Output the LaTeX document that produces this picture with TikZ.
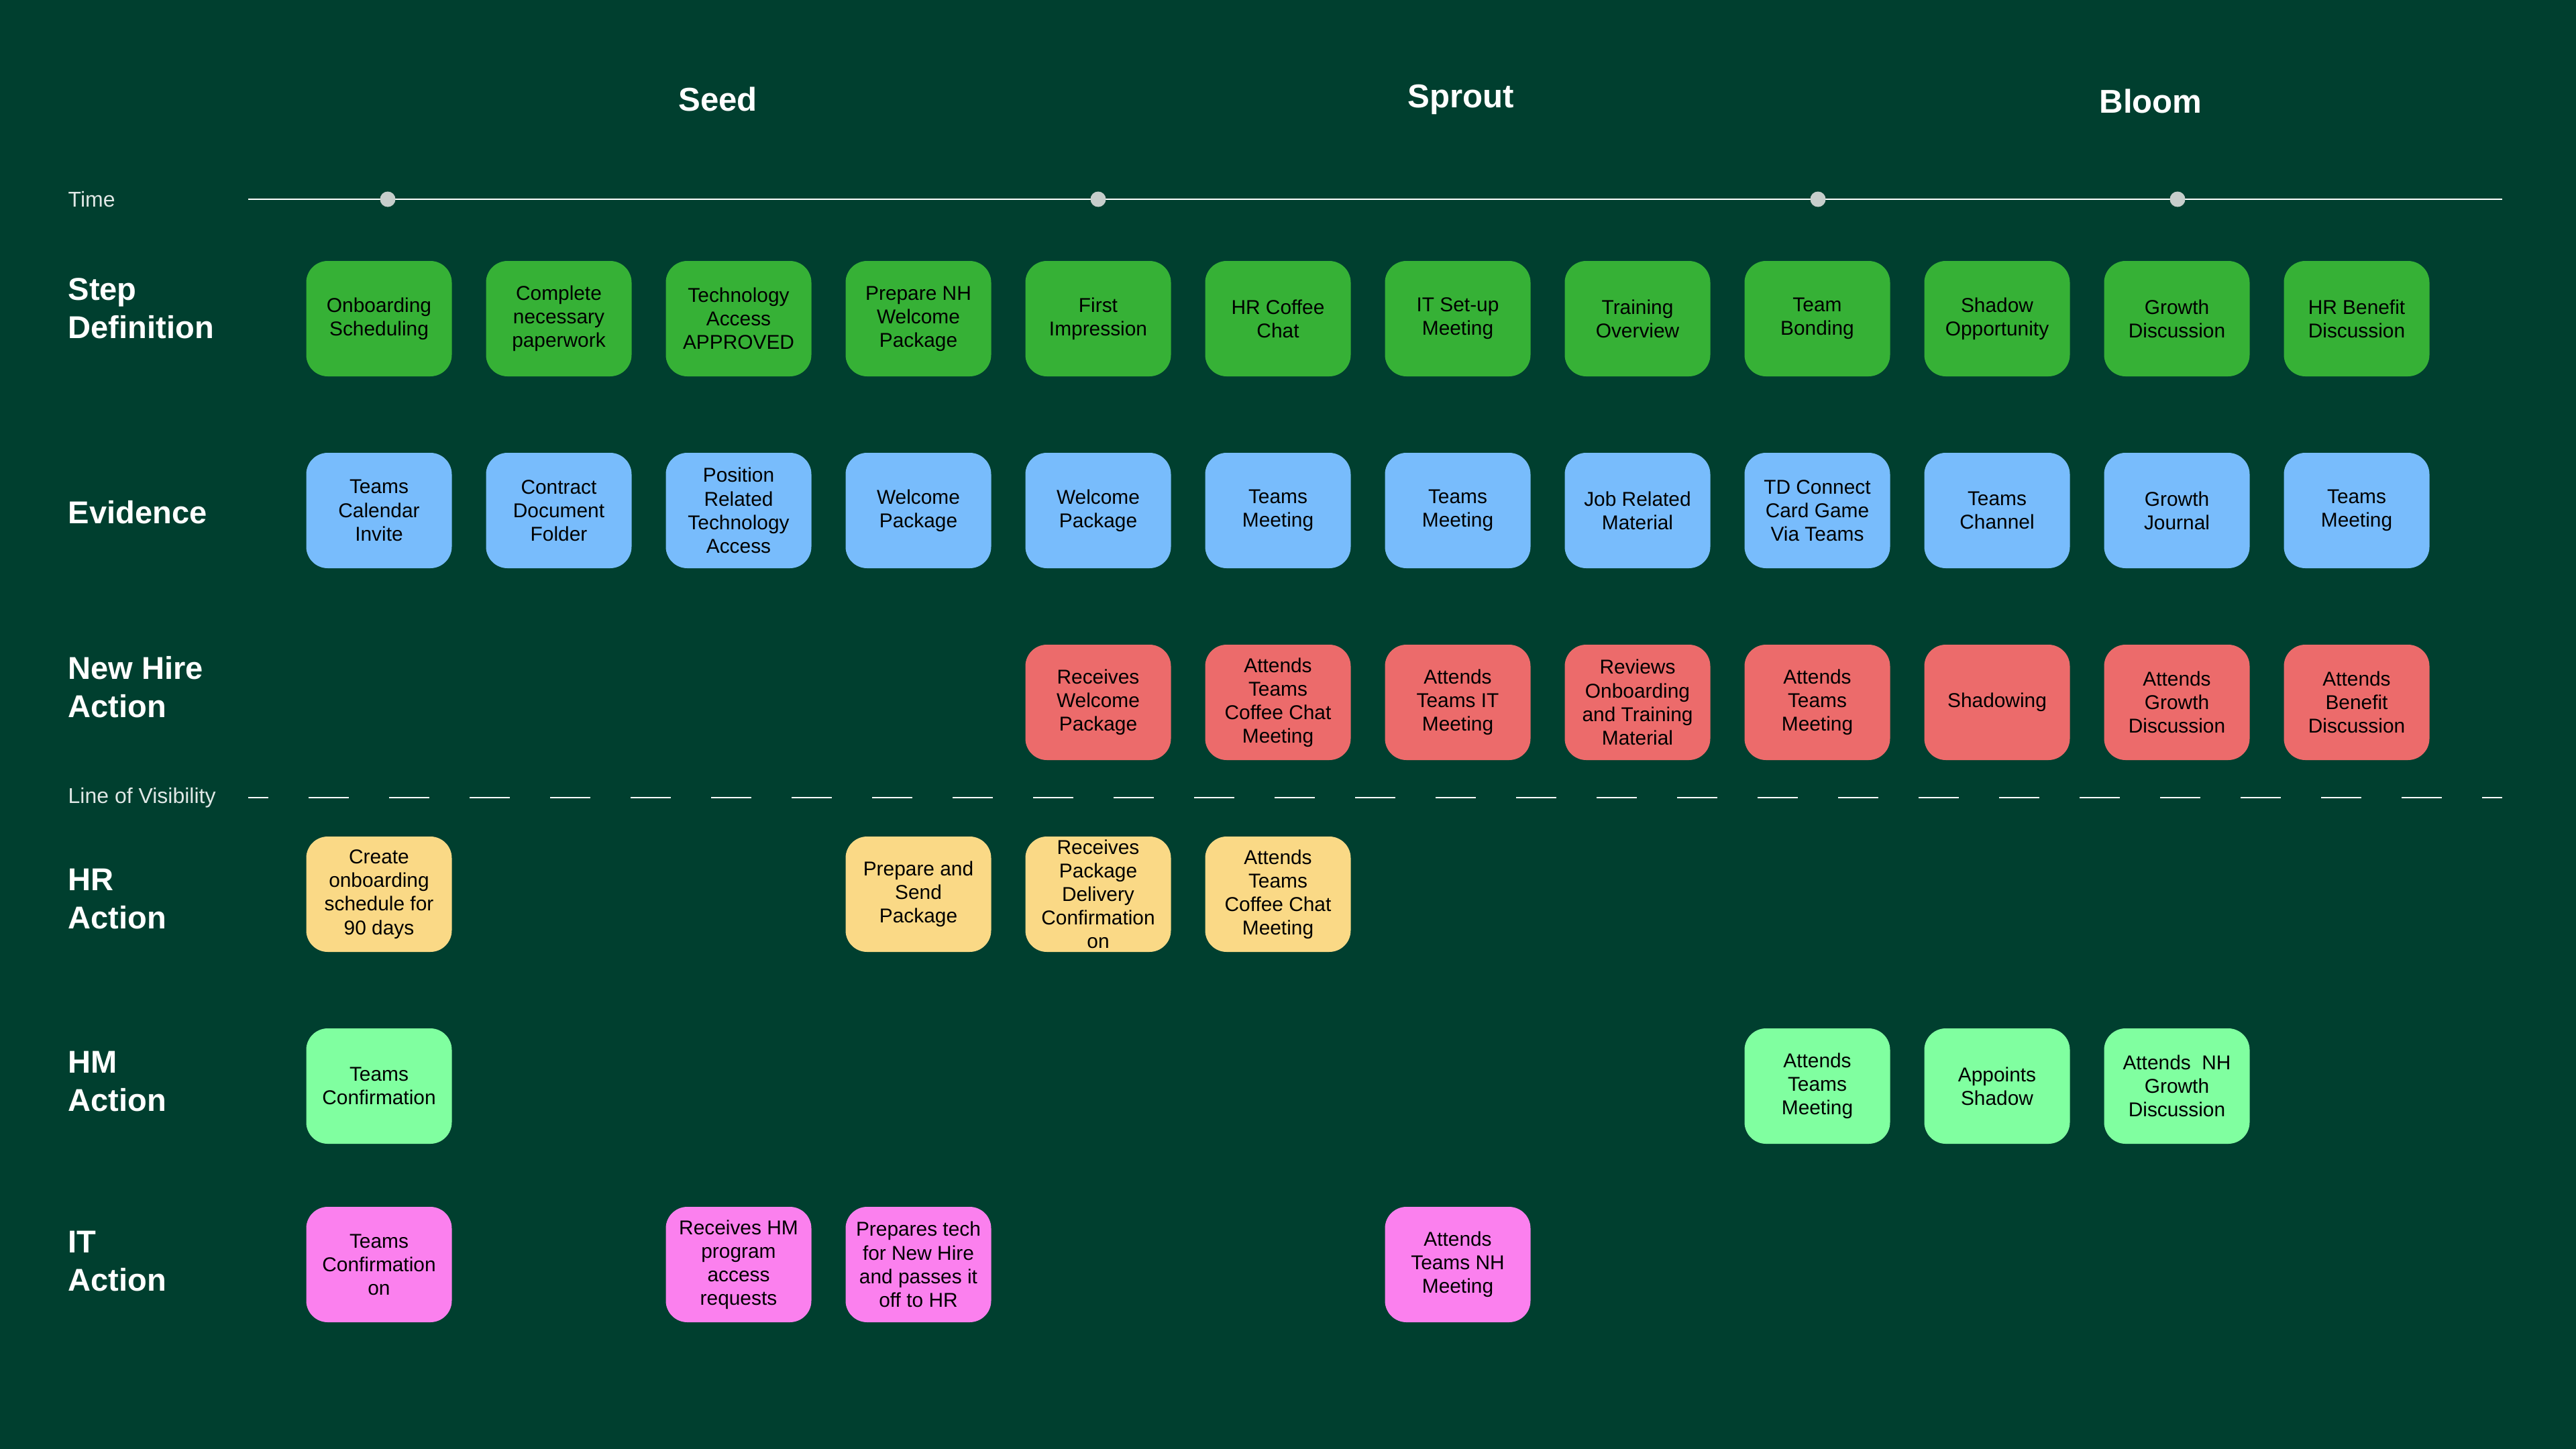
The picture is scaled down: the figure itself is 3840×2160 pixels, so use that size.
\documentclass[tikz,border=0pt]{standalone}
\usepackage{fontspec}
\setmainfont{Liberation Sans}
\usepackage{tikz}

\definecolor{bggreen}{HTML}{003F2F}
\definecolor{stepgreen}{HTML}{36B136}
\definecolor{evblue}{HTML}{78BCFC}
\definecolor{nhred}{HTML}{EC6B6B}
\definecolor{hryellow}{HTML}{FAD986}
\definecolor{hmgreen}{HTML}{80FFA0}
\definecolor{itpink}{HTML}{FB80EE}
\definecolor{dotgrey}{HTML}{C6CECB}

\begin{document}
\begin{tikzpicture}[x=0.1mm,y=-0.1mm,
  box/.style={rounded corners=3.2mm,minimum width=21.7mm,minimum height=17.2mm,inner sep=0pt,align=center,text=black,font=\fontsize{8.5}{10}\selectfont},
  stepbox/.style={box,fill=stepgreen},
  evbox/.style={box,fill=evblue},
  nhbox/.style={box,fill=nhred},
  hrbox/.style={box,fill=hryellow},
  hmbox/.style={box,fill=hmgreen},
  itbox/.style={box,fill=itpink},
  phase/.style={text=white,inner sep=0pt,font=\bfseries\fontsize{14}{17}\selectfont},
  rowlbl/.style={text=white,inner sep=0pt,align=left,anchor=west,font=\bfseries\fontsize{13.4}{16.2}\selectfont},
  smalllbl/.style={text=white!88!bggreen,inner sep=0pt,anchor=west,font=\fontsize{9.1}{11}\selectfont},
  dot/.style={circle,fill=dotgrey,inner sep=0pt,minimum size=2.3mm}]

\fill[bggreen] (0,0) rectangle (3840,2160);
\useasboundingbox (0,0) rectangle (3840,2160);

%phases
\node[phase,anchor=base] (seed) at (1070,165) {Seed};
\node[phase,anchor=base] (sprout) at (2178,160) {Sprout};
\node[phase,anchor=base] (bloom) at (3206,168) {Bloom};

%time line
\node[smalllbl] (timelbl) at (101,297) {Time};
\coordinate (tstart) at (370,297);
\coordinate (tend) at (3730,297);
\draw[white,line width=0.6pt] (tstart) -- (tend);
\node[dot] (t1) at (578,297) {};
\node[dot] (t2) at (1637,297) {};
\node[dot] (t3) at (2710,297) {};
\node[dot] (t4) at (3246,297) {};

%row labels
\node[rowlbl] (lstep) at (101,460) {Step\\Definition};
\node[rowlbl] (lev) at (101,764) {Evidence};
\node[rowlbl] (lnh) at (101,1024) {New Hire\\Action};
\node[rowlbl] (lhr) at (101,1340) {HR\\Action};
\node[rowlbl] (lhm) at (101,1612) {HM\\Action};
\node[rowlbl] (lit) at (101,1880) {IT\\Action};

%step definition
\node[stepbox] (s1) at (565,475) {Onboarding\\Scheduling};
\node[stepbox] (s2) at (833,475) {Complete\\necessary\\paperwork};
\node[stepbox] (s3) at (1101,475) {Technology\\Access\\APPROVED};
\node[stepbox] (s4) at (1369,475) {Prepare NH\\Welcome\\Package};
\node[stepbox] (s5) at (1637,475) {First\\Impression};
\node[stepbox] (s6) at (1905,475) {HR Coffee\\Chat};
\node[stepbox] (s7) at (2173,475) {IT Set-up\\Meeting};
\node[stepbox] (s8) at (2441,475) {Training\\Overview};
\node[stepbox] (s9) at (2709,475) {Team\\Bonding};
\node[stepbox] (s10) at (2977,475) {Shadow\\Opportunity};
\node[stepbox] (s11) at (3245,475) {Growth\\Discussion};
\node[stepbox] (s12) at (3513,475) {HR Benefit\\Discussion};

%evidence
\node[evbox] (e1) at (565,761) {Teams\\Calendar\\Invite};
\node[evbox] (e2) at (833,761) {Contract\\Document\\Folder};
\node[evbox] (e3) at (1101,761) {Position\\Related\\Technology\\Access};
\node[evbox] (e4) at (1369,761) {Welcome\\Package};
\node[evbox] (e5) at (1637,761) {Welcome\\Package};
\node[evbox] (e6) at (1905,761) {Teams\\Meeting};
\node[evbox] (e7) at (2173,761) {Teams\\Meeting};
\node[evbox] (e8) at (2441,761) {Job Related\\Material};
\node[evbox] (e9) at (2709,761) {TD Connect\\Card Game\\Via Teams};
\node[evbox] (e10) at (2977,761) {Teams\\Channel};
\node[evbox] (e11) at (3245,761) {Growth\\Journal};
\node[evbox] (e12) at (3513,761) {Teams\\Meeting};

%new hire action
\node[nhbox] (nh5) at (1637,1047) {Receives\\Welcome\\Package};
\node[nhbox] (nh6) at (1905,1047) {Attends\\Teams\\Coffee Chat\\Meeting};
\node[nhbox] (nh7) at (2173,1047) {Attends\\Teams IT\\Meeting};
\node[nhbox] (nh8) at (2441,1047) {Reviews\\Onboarding\\and Training\\Material};
\node[nhbox] (nh9) at (2709,1047) {Attends\\Teams\\Meeting};
\node[nhbox] (nh10) at (2977,1047) {Shadowing};
\node[nhbox] (nh11) at (3245,1047) {Attends\\Growth\\Discussion};
\node[nhbox] (nh12) at (3513,1047) {Attends\\Benefit\\Discussion};

%line of visibility
\node[smalllbl] (vislbl) at (101,1189) {Line of Visibility};
\coordinate (vstart) at (370,1189);
\coordinate (vend) at (3730,1189);
\draw[white,line width=0.7pt,dash pattern=on 6mm off 6mm,dash phase=3mm] (vstart) -- (vend);

%hr action
\node[hrbox] (hr1) at (565,1333) {Create\\onboarding\\schedule for\\90 days};
\node[hrbox] (hr4) at (1369,1333) {Prepare and\\Send\\Package};
\node[hrbox] (hr5) at (1637,1333) {Receives\\Package\\Delivery\\Confirmation\\on};
\node[hrbox] (hr6) at (1905,1333) {Attends\\Teams\\Coffee Chat\\Meeting};

%hm action
\node[hmbox] (hm1) at (565,1619) {Teams\\Confirmation};
\node[hmbox] (hm9) at (2709,1619) {Attends\\Teams\\Meeting};
\node[hmbox] (hm10) at (2977,1619) {Appoints\\Shadow};
\node[hmbox] (hm11) at (3245,1619) {Attends~ NH\\Growth\\Discussion};

%it action
\node[itbox] (it1) at (565,1885) {Teams\\Confirmation\\on};
\node[itbox] (it3) at (1101,1885) {Receives HM\\program\\access\\requests};
\node[itbox] (it4) at (1369,1885) {Prepares tech\\for New Hire\\and passes it\\off to HR};
\node[itbox] (it7) at (2173,1885) {Attends\\Teams NH\\Meeting};

\end{tikzpicture}
\end{document}
